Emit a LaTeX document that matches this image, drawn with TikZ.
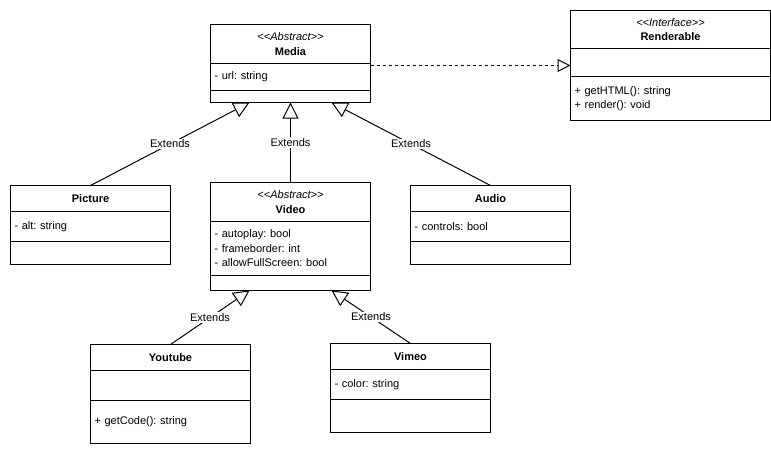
\documentclass[tikz,border=0pt]{standalone}
\usepackage{fontspec}
\setmainfont{Liberation Sans}
\usetikzlibrary{positioning,arrows.meta}
\frenchspacing
\newcommand{\stereo}[1]{\textit{{<}{<}#1{>}{>}}}

\begin{document}
\begin{tikzpicture}[
x=1pt, y=-1pt,
every node/.style={font=\fontsize{11}{14.5}\selectfont},
classhead/.style={
		draw, line width=1pt,
		minimum width=160pt,
		anchor=north, align=center,
		inner sep=0pt, outer sep=0pt,
		},
classpart/.style={
		draw, line width=1pt,
		text width=152pt, inner xsep=4pt, inner ysep=0pt,
		align=left, outer sep=0pt,
		},
extends/.style={line width=1pt, -{Triangle[open, length=16pt, width=16pt]}},
implements/.style={line width=1pt, dash pattern=on 3pt off 3pt, -{Triangle[open, length=13pt, width=13pt]}},
lbl/.style={fill=white, inner sep=1pt}
]
\useasboundingbox (0,0) rectangle (771,458);

% interface
\node[classhead, minimum width=200pt, minimum height=38pt] (renderable) at (670.5,10.5) {\stereo{Interface}\\\textbf{Renderable}};
\node[classpart, text width=192pt, minimum height=28pt, below=0pt of renderable] (renderable-attr) {};
\node[classpart, text width=192pt, minimum height=44pt, below=0pt of renderable-attr] (renderable-ops) {+ getHTML(): string\\+ render(): void};

% base class
\node[classhead, minimum height=39pt] (media) at (290.5,24.5) {\stereo{Abstract}\\\textbf{Media}};
\node[classpart, minimum height=27pt, below=0pt of media] (media-attr) {- url: string};
\node[classpart, minimum height=12pt, below=0pt of media-attr] (media-ops) {};

% first level
\node[classhead, minimum height=26pt] (picture) at (90.5,185.5) {\textbf{Picture}};
\node[classpart, minimum height=30pt, below=0pt of picture] (picture-attr) {- alt: string};
\node[classpart, minimum height=23pt, below=0pt of picture-attr] (picture-ops) {};

\node[classhead, minimum height=39pt] (video) at (290.5,182.5) {\stereo{Abstract}\\\textbf{Video}};
\node[classpart, minimum height=54pt, below=0pt of video] (video-attr) {- autoplay: bool\\- frameborder: int\\- allowFullScreen: bool};
\node[classpart, minimum height=15pt, below=0pt of video-attr] (video-ops) {};

\node[classhead, minimum height=26pt] (audio) at (490.5,185.5) {\textbf{Audio}};
\node[classpart, minimum height=30pt, below=0pt of audio] (audio-attr) {- controls: bool};
\node[classpart, minimum height=23pt, below=0pt of audio-attr] (audio-ops) {};

% second level
\node[classhead, minimum height=26pt] (youtube) at (170.5,344.5) {\textbf{Youtube}};
\node[classpart, minimum height=30pt, below=0pt of youtube] (youtube-attr) {};
\node[classpart, minimum height=43pt, below=0pt of youtube-attr] (youtube-ops) {+ getCode(): string};

\node[classhead, minimum height=26pt] (vimeo) at (410.5,343.5) {\textbf{Vimeo}};
\node[classpart, minimum height=30pt, below=0pt of vimeo] (vimeo-attr) {- color: string};
\node[classpart, minimum height=33pt, below=0pt of vimeo-attr] (vimeo-ops) {};

% inheritance
\draw[extends] (picture.north) -- node[lbl]{Extends} ([xshift=-41pt]media-ops.south);
\draw[extends] (video.north) -- node[lbl]{Extends} (media-ops.south);
\draw[extends] (audio.north) -- node[lbl]{Extends} ([xshift=41pt]media-ops.south);
\draw[extends] (youtube.north) -- node[lbl]{Extends} ([xshift=-41pt]video-ops.south);
\draw[extends] (vimeo.north) -- node[lbl]{Extends} ([xshift=41pt]video-ops.south);

% realization
\coordinate (realize) at ([yshift=-3pt]renderable-attr.west);
\draw[implements] (media-attr.east |- realize) -- (realize);
\end{tikzpicture}
\end{document}
